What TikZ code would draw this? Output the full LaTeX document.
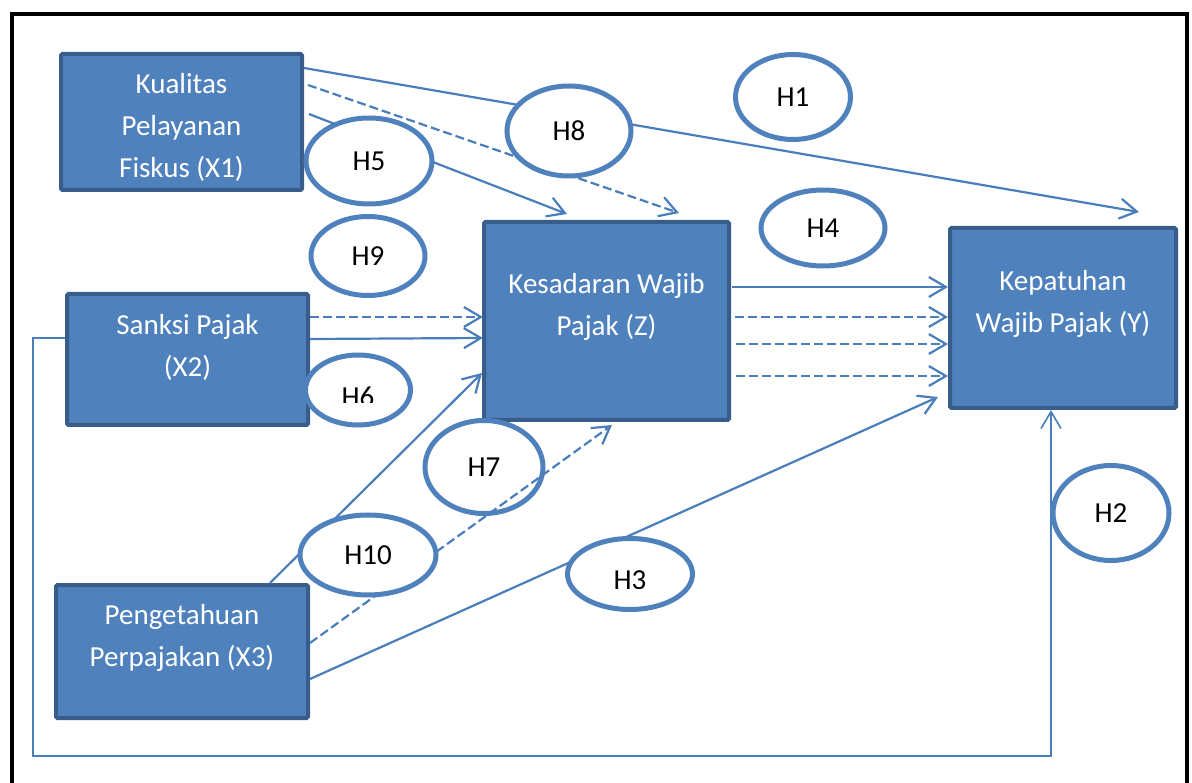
\documentclass[tikz,border=0pt]{standalone}
\usepackage{fontspec}
\setmainfont{Carlito}
\usetikzlibrary{arrows.meta,shapes.geometric}
\definecolor{boxfill}{HTML}{4F81BD}
\definecolor{boxedge}{HTML}{385D8A}
\definecolor{linkblue}{HTML}{4A7EBB}

\begin{document}
\begin{tikzpicture}[x=1pt, y=-1pt,
        box/.style={rectangle, draw=boxedge, fill=boxfill, line width=4pt, rounded corners=1.5pt, inner sep=0pt},
        boxtext/.style={text=white, align=center, font=\fontsize{29}{42}\selectfont, inner sep=0pt},
        hyp/.style={ellipse, draw=boxfill, fill=white, line width=5pt, inner sep=0pt, font=\fontsize{29}{34}\selectfont},
        hyptext/.style={inner sep=0pt, font=\fontsize{29}{34}\selectfont},
        arrow/.style={draw=linkblue, line width=2.2pt, -{Straight Barb[length=17pt,width=20pt]}},
        dasharrow/.style={arrow, dash pattern=on 9pt off 4pt},
        elbow/.style={arrow, line width=1.6pt},
        frame/.style={draw=black, line width=4pt}
    ]
        \useasboundingbox (0,0) rectangle (1192,783);
        \draw[frame] (12,783) -- (12,14) -- (1187,14) -- (1187,783);

        % variabel
        \node[box, minimum width=241, minimum height=136] (x1) at (181.5,122) {};
        \node[box, minimum width=241, minimum height=131] (x2) at (187.5,359.5) {};
        \node[box, minimum width=252, minimum height=133] (x3) at (182,651.5) {};
        \node[box, minimum width=245, minimum height=198] (z) at (606.5,321) {};
        \node[box, minimum width=226, minimum height=180] (y) at (1063,318) {};

        \node[boxtext] (x1txt) at (181.5,127) {Kualitas\\Pelayanan\\Fiskus (X1)};
        \node[boxtext] (x2txt) at (187.5,347) {Sanksi Pajak\\(X2)};
        \node[boxtext] (x3txt) at (182,638) {Pengetahuan\\Perpajakan (X3)};
        \node[boxtext] (ztxt) at (606.5,307) {Kesadaran Wajib\\Pajak (Z)};
        \node[boxtext] (ytxt) at (1063,304) {Kepatuhan\\Wajib Pajak (Y)};

        \node[hyp, minimum width=118, minimum height=93] (h7) at (484,467) {H7};

        % hubungan
        \coordinate (tipy) at (1139,212);
        \coordinate (loop) at (33,756);
        \draw[arrow] ([yshift=54pt]x1.east) -- (tipy);
        \draw[dasharrow] ([xshift=4pt,yshift=37pt]x1.east) -- ([xshift=72.5pt,yshift=7pt]z.north);
        \draw[arrow] ([xshift=5pt,yshift=8pt]x1.east) -- ([xshift=-39.5pt,yshift=6pt]z.north);
        \draw[dasharrow] ([yshift=42.5pt]x2.east) -- ([xshift=1pt,yshift=4pt]z.west);
        \draw[arrow] ([yshift=20.5pt]x2.east) -- ([xshift=1pt,yshift=-17pt]z.west);
        \draw[arrow] ([xshift=88pt]x3.north) -- ([yshift=-52pt]z.west);
        \draw[dasharrow] ([yshift=8.5pt]x3.east) -- ([xshift=5.5pt,yshift=-3pt]z.south);
        \draw[arrow] ([yshift=-27.5pt]x3.east) -- ([xshift=-10pt,yshift=-79pt]y.west);
        \draw[arrow] ([xshift=1pt,yshift=34pt]z.east) -- ([yshift=31pt]y.west);
        \draw[dasharrow] ([xshift=4pt,yshift=4pt]z.east) -- ([yshift=1pt]y.west);
        \draw[dasharrow] ([xshift=5pt,yshift=-23pt]z.east) -- ([yshift=-26pt]y.west);
        \draw[dasharrow] ([xshift=5pt,yshift=-55pt]z.east) -- ([yshift=-58pt]y.west);
        \draw[elbow] ([yshift=21.5pt]x2.west) -| (loop) -| ([xshift=-12pt]y.south);

        % hipotesis
        \node[hyp, minimum width=115, minimum height=85] (h1) at (793,97) {H1};
        \node[hyp, minimum width=124, minimum height=90] (h8) at (569,131) {H8};
        \node[hyp, minimum width=126, minimum height=86] (h5) at (369,161) {H5};
        \node[hyp, minimum width=114, minimum height=79] (h9) at (368,256) {H9};
        \node[hyp, minimum width=124, minimum height=76] (h4) at (823,228) {H4};
        \node[hyp, minimum width=105, minimum height=70] (h6) at (358,390) {};
        \node[hyp, minimum width=136, minimum height=80] (h10) at (368,555) {H10};
        \node[hyp, minimum width=125, minimum height=71] (h3) at (630,574) {};
        \node[hyp, minimum width=116, minimum height=95] (h2) at (1111,513) {H2};

        \begin{scope}
            \clip (300,350) rectangle (420,403);
            \node[hyptext] (h6txt) at (358,396.5) {H6};
        \end{scope}
        \begin{scope}
            \clip (565,536) rectangle (695,588);
            \node[hyptext] (h3txt) at (630,580.5) {H3};
        \end{scope}
    \end{tikzpicture}
\end{document}
